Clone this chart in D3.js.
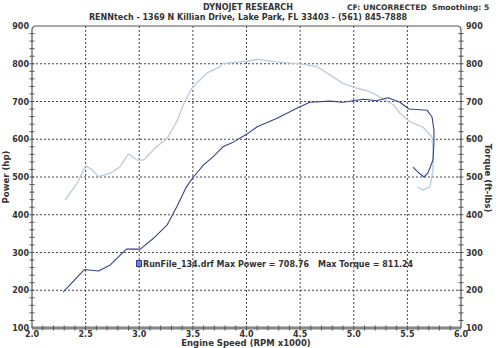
<!DOCTYPE html>
<html><head><meta charset="utf-8">
<script src="https://cdn.jsdelivr.net/npm/d3@7"></script>
<style>body{margin:0;background:#fff}svg{display:block}text{font-family:"DejaVu Sans",Verdana,sans-serif;font-weight:bold;fill:#333}</style>
</head><body><svg id="c" width="500" height="348"></svg>
<script>
const xTicks = [2.0,2.5,3.0,3.5,4.0,4.5,5.0,5.5,6.0];
const yTicks = [100,200,300,400,500,600,700,800,900];
const powerRpm = [2.29,2.49,2.62,2.73,2.88,3.01,3.13,3.26,3.35,3.44,3.50,3.60,3.69,3.78,3.88,4.00,4.10,4.28,4.47,4.59,4.78,4.90,5.09,5.21,5.32,5.43,5.515,5.683,5.73,5.748,5.748,5.739,5.692,5.655,5.599,5.552];
const powerHp = [195,255,251,267,309,309,337,373,421,474,498,532,554,580,593,613,633,655,682,698,701,698,706,702,710,698,680,677,659,624,593,545,511,500,513,526];
const torqueRpm = [2.31,2.42,2.50,2.56,2.62,2.73,2.82,2.90,2.98,3.04,3.16,3.26,3.35,3.43,3.50,3.63,3.75,3.78,4.00,4.10,4.28,4.52,4.66,4.78,4.90,5.03,5.15,5.28,5.37,5.431,5.524,5.646,5.73,5.739,5.739,5.711,5.646,5.59];
const torqueFtLb = [439,483,530,519,501,510,527,561,545,545,580,602,647,704,739,775,792,801,806,812,805,799,792,770,748,735,726,706,691,669,646,632,606,572,519,474,466,474];
const maxPower = "708.76", maxTorque = "811.24";

const svg = d3.select("#c");
const x = d3.scaleLinear().domain([2,6]).range([32,461]);
const y = d3.scaleLinear().domain([100,900]).range([328,26]);

// grid
const g = svg.append("g");
g.selectAll("line.vx").data(xTicks.slice(1,-1)).join("line")
  .attr("x1",d=>x(d)).attr("x2",d=>x(d)).attr("y1",y(900)).attr("y2",y(100))
  .attr("stroke","#444").attr("stroke-width",1).attr("stroke-dasharray","2,2");
g.selectAll("line.hy").data(yTicks.slice(1,-1)).join("line")
  .attr("y1",d=>y(d)).attr("y2",d=>y(d)).attr("x1",x(2)).attr("x2",x(6))
  .attr("stroke","#444").attr("stroke-width",1).attr("stroke-dasharray","2,2");

// frame
svg.append("rect").attr("x",x(2)).attr("y",y(100)-2).attr("width",x(6)-x(2)).attr("height",4).attr("fill","#bbb");
svg.append("path").attr("d",`M${x(2)},${y(100)} L${x(2)},${y(900)+4} Q${x(2)},${y(900)} ${x(2)+4},${y(900)} L${x(6)-4},${y(900)} Q${x(6)},${y(900)} ${x(6)},${y(900)+4} L${x(6)},${y(100)}`)
  .attr("fill","none").attr("stroke","#555").attr("stroke-width",1.2);
svg.append("line").attr("x1",x(2)).attr("x2",x(6)).attr("y1",y(100)).attr("y2",y(100)).attr("stroke","#555").attr("stroke-width",1.2);

// minor ticks
const yMinor = d3.range(120,900,20);
const xMinor = d3.range(2.1,6.0,0.1);
[x(2),x(6)].forEach(px=>{
  svg.append("g").selectAll("line").data(yMinor).join("line")
    .attr("x1",px-2.5).attr("x2",px+2.5).attr("y1",d=>y(d)).attr("y2",d=>y(d))
    .attr("stroke","#555").attr("stroke-width",1);
});
svg.append("g").selectAll("line").data(xMinor).join("line")
  .attr("x1",d=>x(d)).attr("x2",d=>x(d)).attr("y1",y(100)-2.5).attr("y2",y(100)+2.5)
  .attr("stroke","#555").attr("stroke-width",1);

// axis labels
svg.append("g").selectAll("text").data(yTicks).join("text")
  .attr("x",29).attr("y",d=>y(d)+3).attr("text-anchor","end").attr("font-size",8).text(d=>d);
svg.append("g").selectAll("text").data(yTicks).join("text")
  .attr("x",466).attr("y",d=>y(d)+3).attr("text-anchor","start").attr("font-size",8).text(d=>d);
svg.append("g").selectAll("text").data(xTicks).join("text")
  .attr("x",d=>x(d)).attr("y",337).attr("text-anchor","middle").attr("font-size",8).text(d=>d.toFixed(1));

svg.append("text").attr("transform","translate(9,177) rotate(-90)").attr("text-anchor","middle").attr("font-size",8.5).text("Power (hp)");
svg.append("text").attr("transform","translate(485,178) rotate(90)").attr("text-anchor","middle").attr("font-size",8.5).text("Torque (ft-lbs)");
svg.append("text").attr("x",246).attr("y",346).attr("text-anchor","middle").attr("font-size",8.5).text("Engine Speed (RPM x1000)");

// titles
svg.append("text").attr("x",248).attr("y",10).attr("text-anchor","middle").attr("font-size",8).text("DYNOJET RESEARCH");
svg.append("text").attr("x",347).attr("y",10).attr("font-size",7.6).attr("xml:space","preserve").text("CF: UNCORRECTED  Smoothing: 5");
svg.append("text").attr("x",248).attr("y",20).attr("text-anchor","middle").attr("font-size",8).text("RENNtech - 1369 N Killian Drive, Lake Park, FL 33403 - (561) 845-7888");

// curves
const line = d3.line().x(d=>x(d[0])).y(d=>y(d[1]));
svg.append("path").datum(torqueRpm.map((r,i)=>[r,torqueFtLb[i]])).attr("d",line)
  .attr("fill","none").attr("stroke","#bfcedc").attr("stroke-width",1.4).attr("stroke-linejoin","round");
svg.append("path").datum(powerRpm.map((r,i)=>[r,powerHp[i]])).attr("d",line)
  .attr("fill","none").attr("stroke","#35428c").attr("stroke-width",1.1).attr("stroke-linejoin","round");

// legend
svg.append("rect").attr("x",136.5).attr("y",260.5).attr("width",5).attr("height",6).attr("fill","#6f83d6").attr("stroke","#33408a").attr("stroke-width",1);
svg.append("text").attr("x",143).attr("y",267).attr("font-size",8).text("RunFile_134.drf Max Power = "+maxPower);
svg.append("text").attr("x",318).attr("y",267).attr("font-size",8).text("Max Torque = "+maxTorque);
</script></body></html>
